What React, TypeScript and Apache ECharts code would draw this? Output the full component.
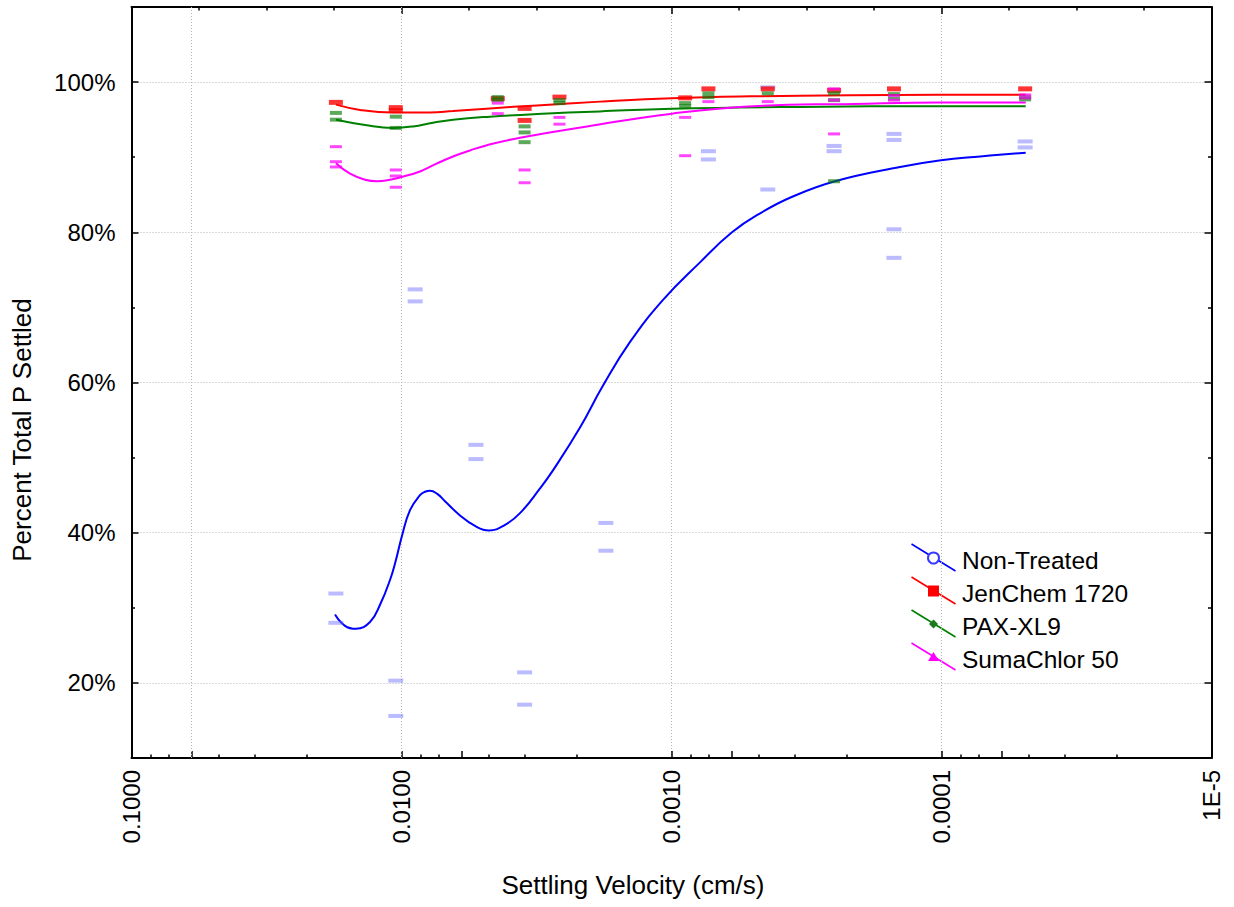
import React, { useEffect, useRef } from "react";
import * as echarts from "echarts";

const FONT = "'Liberation Sans', Arial, Helvetica, sans-serif";

// Settling velocity axis (cm/s): log scale, fast on the left, slow on the right
const xTickValues = [0.1, 0.01, 0.001, 0.0001, 0.00001];
const xTickLabels = ["0.1000", "0.0100", "0.0010", "0.0001", "1E-5"];
const xMidTicks = [0.06, 0.006, 0.0006, 0.00006];
const xMinorTicks = [
  0.085, 0.0725, 0.0475, 0.035, 0.0225,
  0.0085, 0.00725, 0.00475, 0.0035, 0.00225,
  0.00085, 0.000725, 0.000475, 0.00035, 0.000225,
  0.000085, 0.0000725, 0.0000475, 0.000035, 0.0000225,
];
const xTopTicks = [
  0.056234, 0.031623, 0.017783,
  0.0056234, 0.0031623, 0.0017783,
  0.00056234, 0.00031623, 0.00017783,
  0.000056234, 0.000031623, 0.000017783,
];

// Percent settled axis
const yTickValues = [20, 40, 60, 80, 100];
const yTickLabels = ["20%", "40%", "60%", "80%", "100%"];
const yMinorTicks = [30, 50, 70, 90];

const seriesNames = ["Non-Treated", "JenChem 1720", "PAX-XL9", "SumaChlor 50"];
const lineColors = ["#0000ff", "#ff0000", "#008000", "#ff00ff"];

// Measured replicates [velocity cm/s, % total P settled]
const nonTreatedPts = [
  [0.0175, 31.9], [0.0175, 28.0],
  [0.0105, 20.3], [0.0105, 15.6],
  [0.0089, 72.4], [0.0089, 70.8],
  [0.0053, 51.7], [0.0053, 49.8],
  [0.0035, 21.4], [0.0035, 17.1],
  [0.00175, 41.3], [0.00175, 37.6],
  [0.00073, 90.8], [0.00073, 89.7],
  [0.00044, 99.3], [0.00044, 85.7],
  [0.00025, 91.5], [0.00025, 90.8],
  [0.00015, 93.1], [0.00015, 92.3], [0.00015, 80.4], [0.00015, 76.6],
  [0.000049, 92.1], [0.000049, 91.3],
];
const jenChemPts = [
  [0.0175, 97.3],
  [0.0105, 96.6], [0.0105, 96.2],
  [0.0044, 97.8],
  [0.0035, 96.5], [0.0035, 94.9],
  [0.0026, 98.0],
  [0.00089, 97.9],
  [0.00073, 99.1],
  [0.00044, 99.1],
  [0.00025, 98.9],
  [0.00015, 99.1],
  [0.000049, 99.1],
];
const paxPts = [
  [0.0175, 95.9], [0.0175, 95.0],
  [0.0105, 95.4], [0.0105, 93.9],
  [0.0044, 98.0], [0.0044, 97.6],
  [0.0035, 94.1], [0.0035, 93.3], [0.0035, 92.0],
  [0.0026, 97.6], [0.0026, 97.2],
  [0.00089, 97.2], [0.00089, 96.8],
  [0.00073, 98.5], [0.00073, 98.0],
  [0.00044, 98.5],
  [0.00025, 98.5], [0.00025, 97.6], [0.00025, 86.8],
  [0.00015, 98.4], [0.00015, 97.8],
  [0.000049, 98.0], [0.000049, 97.7],
];
const sumaPts = [
  [0.0175, 91.4], [0.0175, 89.4], [0.0175, 88.7],
  [0.0105, 88.3], [0.0105, 87.5], [0.0105, 86.0],
  [0.0044, 97.2], [0.0044, 95.8],
  [0.0035, 88.3], [0.0035, 86.6],
  [0.0026, 95.3], [0.0026, 94.4],
  [0.00089, 95.3], [0.00089, 90.2],
  [0.00073, 97.4],
  [0.00044, 97.4],
  [0.00025, 99.1], [0.00025, 97.6], [0.00025, 93.1],
  [0.00015, 98.2], [0.00015, 97.6],
  [0.000049, 98.3], [0.000049, 97.9],
];

// Fitted curves [velocity cm/s, % settled]
const nonTreatedFit = [
  [0.01763, 29.1], [0.01619, 27.6], [0.01474, 27.2], [0.01308, 28.1],
  [0.01201, 30.4], [0.01103, 33.7], [0.01048, 36.4], [0.009957, 39.6],
  [0.0093, 43.0], [0.008541, 45.0], [0.008185, 45.45], [0.007842, 45.6],
  [0.007388, 45.2], [0.0069, 44.2], [0.006072, 42.3], [0.005344, 40.9],
  [0.004742, 40.3], [0.00415, 41.0], [0.00364, 42.6], [0.003069, 45.9],
  [0.002748, 48.3], [0.002182, 54.0], [0.001793, 59.6], [0.001424, 65.4],
  [0.001075, 71.0], [0.0007842, 76.0], [0.000597, 80.0], [0.000466, 82.6],
  [0.000359, 84.7], [0.000248, 86.8], [0.0001424, 88.7], [0.0001004, 89.6],
  [0.0000718, 90.1], [0.00004877, 90.6],
];
const jenChemFit = [
  [0.01748, 97.0], [0.01424, 96.3], [0.01075, 95.95], [0.007842, 95.95],
  [0.006447, 96.15], [0.0047, 96.5], [0.003148, 96.9], [0.00184, 97.4],
  [0.0009957, 97.85], [0.0005121, 98.1], [0.0002182, 98.25], [0.0001013, 98.3],
  [0.00004877, 98.3],
];
const paxFit = [
  [0.01748, 95.0], [0.01365, 94.3], [0.01075, 93.9], [0.009066, 94.1],
  [0.007644, 94.6], [0.006447, 95.0], [0.0047, 95.4], [0.003148, 95.75],
  [0.00184, 96.1], [0.0009957, 96.45], [0.0003343, 96.7], [0.0001013, 96.8],
  [0.00004877, 96.8],
];
const sumaFit = [
  [0.01748, 89.2], [0.01551, 87.8], [0.01365, 87.0], [0.01232, 86.8],
  [0.01103, 87.0], [0.00992, 87.4], [0.008541, 88.1], [0.007451, 89.1],
  [0.006447, 90.1], [0.005576, 90.9], [0.004824, 91.6], [0.00364, 92.6],
  [0.002056, 94.1], [0.0009957, 95.8], [0.000499, 96.8], [0.0002127, 97.1],
  [0.0001013, 97.3], [0.00004877, 97.3],
];

const fitData = [nonTreatedFit, jenChemFit, paxFit, sumaFit];
const pointData = [nonTreatedPts, jenChemPts, paxPts, sumaPts];
const pointColors = [
  "rgba(100,100,255,0.55)",
  "#ff0000",
  "rgba(0,120,0,0.8)",
  "rgba(255,0,255,0.9)",
];
const pointSizes = [[15, 4], [14, 5], [12, 4], [12, 3]];

const GRID = { left: 131.5, top: 7, right: 22.5, bottom: 149 };
const GRID_LINE = { color: "#b4b4b4", type: [1, 2], width: 1 };
const X_RANGE = { min: 0.00001, max: 0.1 };

const logAxisBase = {
  type: "log",
  logBase: 10,
  inverse: true,
  ...X_RANGE,
  axisPointer: { show: false },
};

function xLabel(v: number): string {
  const i = xTickValues.findIndex(
    (t) => Math.abs(Math.log10(t) - Math.log10(v)) < 1e-6
  );
  return i >= 0 ? xTickLabels[i] : "";
}

function yLabel(v: number): string {
  const i = yTickValues.indexOf(Math.round(v));
  return i >= 0 && Math.abs(v - yTickValues[i]) < 1e-6 ? yTickLabels[i] : "";
}

function legendGraphics() {
  const top = 558;
  const step = 33;
  const lx = 933.5;
  const out: any[] = [];
  seriesNames.forEach((name, i) => {
    const cy = top + i * step;
    const c = lineColors[i];
    out.push({
      type: "line",
      shape: { x1: lx - 22, y1: cy - 14, x2: lx + 22, y2: cy + 13 },
      style: { stroke: c, lineWidth: 1.6 },
      silent: true,
    });
    if (i === 0) {
      out.push({
        type: "circle",
        shape: { cx: lx, cy, r: 5.5 },
        style: { fill: "#ffffff", stroke: "#3a3aff", lineWidth: 2 },
        silent: true,
      });
    } else if (i === 1) {
      out.push({
        type: "rect",
        shape: { x: lx - 5.5, y: cy - 5.5, width: 11, height: 11 },
        style: { fill: "#ff0000" },
        silent: true,
      });
    } else if (i === 2) {
      out.push({
        type: "polygon",
        shape: { points: [[lx, cy - 4.5], [lx + 4.5, cy], [lx, cy + 4.5], [lx - 4.5, cy]] },
        style: { fill: "#1e7a1e" },
        silent: true,
      });
    } else {
      out.push({
        type: "polygon",
        shape: { points: [[lx, cy - 5], [lx + 5.5, cy + 4], [lx - 5.5, cy + 4]] },
        style: { fill: "#ff00ff" },
        silent: true,
      });
    }
    out.push({
      type: "text",
      x: 962,
      y: cy + 2,
      style: {
        text: name,
        fill: "#000000",
        fontSize: 24.5,
        fontFamily: FONT,
        align: "left",
        verticalAlign: "middle",
      },
      silent: true,
    });
  });
  return out;
}

export default function App() {
  const ref = useRef<HTMLDivElement>(null);

  useEffect(() => {
    if (!ref.current) return;
    const chart = echarts.init(ref.current, undefined, { renderer: "svg" });

    const lineSeries = fitData.map((d, i) => ({
      name: seriesNames[i],
      type: "line",
      xAxisIndex: 0,
      yAxisIndex: 0,
      data: d,
      smooth: 0.45,
      showSymbol: false,
      symbol: "none",
      lineStyle: { color: lineColors[i], width: 2 },
      emphasis: { disabled: true },
      z: 3,
      ...(i === 0
        ? {
            markLine: {
              silent: true,
              symbol: "none",
              label: { show: false },
              lineStyle: GRID_LINE,
              emphasis: { disabled: true },
              data: xMidTicks.map((v) => ({ xAxis: v })),
              z: 1,
            },
          }
        : {}),
    }));

    const pointSeries = pointData.map((d, i) => ({
      name: seriesNames[i] + " data",
      type: "scatter",
      xAxisIndex: 0,
      yAxisIndex: 0,
      data: d,
      symbol: "rect",
      symbolSize: pointSizes[i],
      itemStyle: { color: pointColors[i] },
      emphasis: { disabled: true },
      z: 4,
    }));

    const hidden = {
      axisLine: { show: false },
      axisLabel: { show: false },
      splitLine: { show: false },
    };

    chart.setOption({
      animation: false,
      backgroundColor: "#ffffff",
      textStyle: { fontFamily: FONT },
      grid: GRID,
      xAxis: [
        {
          ...logAxisBase,
          position: "bottom",
          axisLine: { show: true, lineStyle: { color: "#000", width: 2 } },
          axisTick: { show: true, inside: true, length: 7, lineStyle: { color: "#000", width: 1.5 } },
          axisLabel: {
            show: true,
            rotate: 90,
            margin: 12,
            fontSize: 24,
            color: "#000",
            fontFamily: FONT,
            formatter: xLabel,
          },
          splitLine: { show: true, lineStyle: GRID_LINE },
          minorTick: { show: false },
        },
        {
          ...logAxisBase,
          position: "bottom",
          ...hidden,
          axisTick: { show: true, inside: true, length: 3.5, customValues: xMinorTicks, lineStyle: { color: "#000", width: 1.5 } },
        },
        {
          ...logAxisBase,
          position: "bottom",
          ...hidden,
          axisTick: { show: true, inside: true, length: 7, customValues: xMidTicks, lineStyle: { color: "#000", width: 1.5 } },
        },
        {
          ...logAxisBase,
          position: "top",
          axisLine: { show: true, lineStyle: { color: "#000", width: 2 } },
          axisLabel: { show: false },
          splitLine: { show: false },
          axisTick: { show: true, inside: true, length: 7, lineStyle: { color: "#000", width: 1.5 } },
        },
        {
          ...logAxisBase,
          position: "top",
          ...hidden,
          axisTick: { show: true, inside: true, length: 3.5, customValues: xTopTicks, lineStyle: { color: "#000", width: 1.5 } },
        },
      ],
      yAxis: [
        {
          type: "value",
          position: "left",
          min: 10,
          max: 110,
          axisLine: { show: true, lineStyle: { color: "#000", width: 2 } },
          axisTick: { show: true, inside: true, length: 7, lineStyle: { color: "#000", width: 1.5 } },
          axisLabel: {
            show: true,
            margin: 16,
            fontSize: 24,
            color: "#000",
            fontFamily: FONT,
            formatter: yLabel,
          },
          splitLine: { show: true, lineStyle: GRID_LINE },
          axisPointer: { show: false },
        },
        {
          type: "value",
          position: "left",
          min: 10,
          max: 110,
          ...hidden,
          axisTick: { show: true, inside: true, length: 3.5, customValues: yMinorTicks, lineStyle: { color: "#000", width: 1.5 } },
        },
        {
          type: "value",
          position: "right",
          min: 10,
          max: 110,
          axisLine: { show: true, lineStyle: { color: "#000", width: 2 } },
          axisLabel: { show: false },
          splitLine: { show: false },
          axisTick: { show: true, inside: true, length: 7, lineStyle: { color: "#000", width: 1.5 } },
        },
        {
          type: "value",
          position: "right",
          min: 10,
          max: 110,
          ...hidden,
          axisTick: { show: true, inside: true, length: 3.5, customValues: yMinorTicks, lineStyle: { color: "#000", width: 1.5 } },
        },
      ],
      series: [...lineSeries, ...pointSeries],
      graphic: [
        {
          type: "text",
          x: 633,
          y: 885,
          style: {
            text: "Settling Velocity (cm/s)",
            fill: "#000",
            fontSize: 26,
            fontFamily: FONT,
            align: "center",
            verticalAlign: "middle",
          },
          silent: true,
        },
        {
          type: "text",
          x: 22,
          y: 430,
          rotation: Math.PI / 2,
          style: {
            text: "Percent Total P Settled",
            fill: "#000",
            fontSize: 26,
            fontFamily: FONT,
            align: "center",
            verticalAlign: "middle",
          },
          silent: true,
        },
        ...legendGraphics(),
      ],
    });

    return () => chart.dispose();
  }, []);

  return (
    <div
      ref={ref}
      style={{ position: "fixed", left: 0, top: 0, width: 1234, height: 907, background: "#fff" }}
    />
  );
}
